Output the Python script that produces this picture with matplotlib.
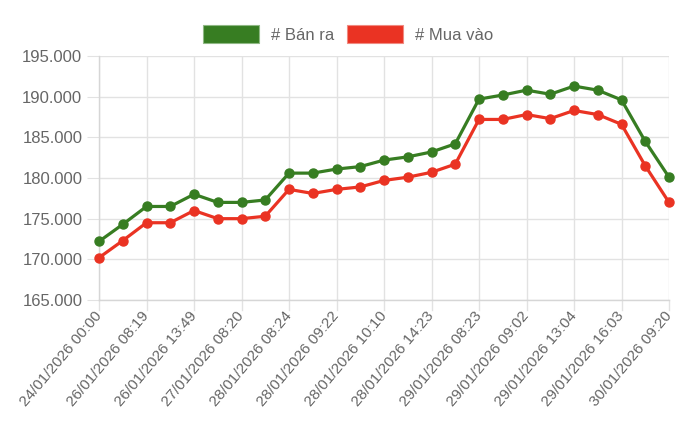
import matplotlib
matplotlib.use("Agg")
import numpy as np
from matplotlib import pyplot as plt
from matplotlib.patches import Patch
from matplotlib.ticker import FuncFormatter

# tick labels shown on the x axis (every other point carries a label)
tick_labels = [
    "24/01/2026 00:00", "26/01/2026 08:19", "26/01/2026 13:49", "27/01/2026 08:20",
    "28/01/2026 08:24", "28/01/2026 09:22", "28/01/2026 10:10", "28/01/2026 14:23",
    "29/01/2026 08:23", "29/01/2026 09:02", "29/01/2026 13:04", "29/01/2026 16:03",
    "30/01/2026 09:20",
]

# selling price (Bán ra)
ban_ra = [172.2, 174.3, 176.5, 176.5, 178.0, 177.0, 177.0, 177.3, 180.6, 180.6,
          181.1, 181.4, 182.2, 182.6, 183.2, 184.2, 189.7, 190.2, 190.8, 190.3,
          191.3, 190.8, 189.6, 184.5, 180.1]
# buying price (Mua vào)
mua_vao = [170.2, 172.3, 174.5, 174.5, 176.0, 175.0, 175.0, 175.3, 178.6, 178.1,
           178.6, 178.9, 179.7, 180.1, 180.7, 181.7, 187.2, 187.2, 187.8, 187.3,
           188.3, 187.8, 186.6, 181.5, 177.0]

green = "#377d22"
red = "#ea3323"
text_col = "#666666"
grid_col = "#e2e2e2"

plt.rcParams['font.family'] = ['Liberation Sans', 'DejaVu Sans']

fig = plt.figure(figsize=(7, 4.46), dpi=100)
ax = fig.add_axes([99 / 700, 1 - 300 / 446, 570 / 700, 244 / 446])

x = np.arange(len(ban_ra))
ax.plot(x, np.array(ban_ra) * 1000, color=green, lw=2.3, marker='o', markersize=6.5,
        zorder=3, clip_on=False)
ax.plot(x, np.array(mua_vao) * 1000, color=red, lw=2.3, marker='o', markersize=6.5,
        zorder=3, clip_on=False)

ax.set_xlim(0, len(ban_ra) - 1)
ax.set_ylim(165000, 195000)
ax.set_yticks(np.arange(165000, 195001, 5000))
ax.yaxis.set_major_formatter(FuncFormatter(lambda v, p: f"{int(v):,}".replace(",", ".")))

ax.set_xticks(x)
ax.set_xticklabels(["" for _ in x])
tick_pos = x[::2]
for pos, lab in zip(tick_pos, tick_labels):
    ax.text(pos, -0.055, lab, transform=ax.get_xaxis_transform(), rotation=50,
            rotation_mode='anchor', ha='right', va='center', fontsize=11, color=text_col)

ax.tick_params(axis='x', length=0)
ax.tick_params(axis='y', length=9, color=grid_col, labelsize=12, labelcolor=text_col, pad=3)
# vertical grid at labelled positions, with short extension below axis
for pos in tick_pos:
    ax.plot([pos, pos], [0, -0.04], transform=ax.get_xaxis_transform(), color=grid_col,
            lw=1, clip_on=False, zorder=0)
ax.grid(False)
for pos in tick_pos:
    ax.axvline(pos, color=grid_col, lw=1, zorder=0)
ax.yaxis.grid(True, color=grid_col, lw=1, zorder=0)
ax.set_axisbelow(True)

for side in ['top', 'right']:
    ax.spines[side].set_visible(False)
for side in ['left', 'bottom']:
    ax.spines[side].set_color("#d6d6d6")
    ax.spines[side].set_linewidth(1)

handles = [Patch(facecolor=green, edgecolor="#8fb884", lw=0.8, label="# Bán ra"),
           Patch(facecolor=red, edgecolor="#f08a80", lw=0.8, label="# Mua vào")]
fig.legend(handles=handles, loc='center', bbox_to_anchor=(348 / 700, 1 - 34 / 446), ncol=2,
           frameon=False, fontsize=12, labelcolor=text_col, handlelength=3.36,
           handleheight=1.2, handletextpad=0.72, columnspacing=0.78)

fig.savefig("out.png", dpi=100)
